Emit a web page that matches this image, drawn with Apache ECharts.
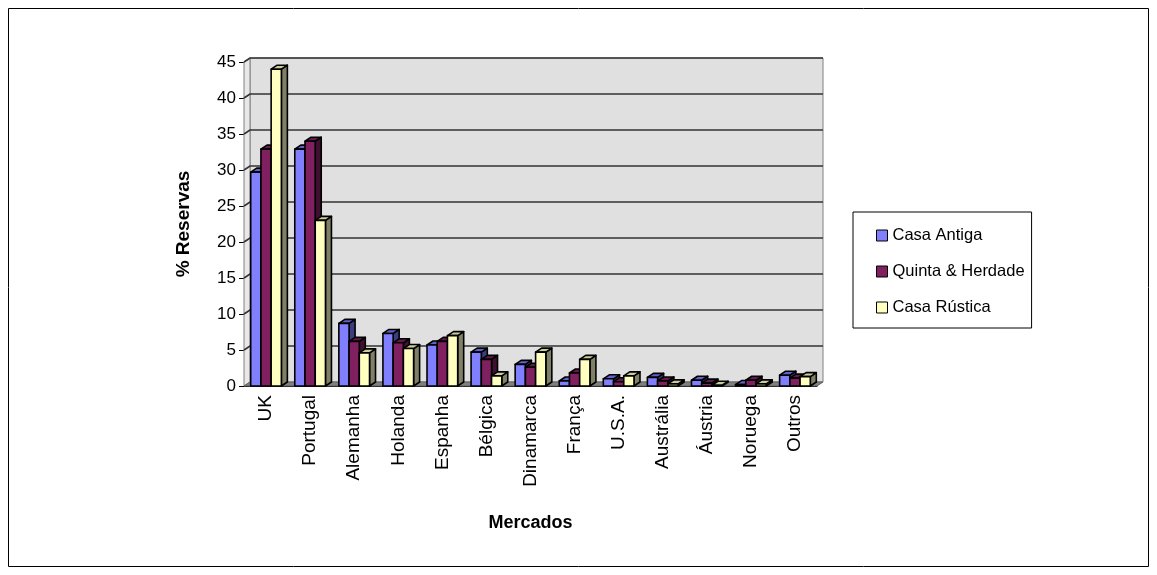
<!DOCTYPE html>
<html>
<head>
<meta charset="utf-8">
<script src="https://cdn.jsdelivr.net/npm/echarts@6/dist/echarts.min.js"></script>
<style>
html, body { margin: 0; padding: 0; background: #fff; }
#chart { width: 1157px; height: 575px; }
</style>
</head>
<body>
<div id="chart"></div>
<script>
// dados
var mercados = ['UK', 'Portugal', 'Alemanha', 'Holanda', 'Espanha', 'Bélgica', 'Dinamarca', 'França', 'U.S.A.', 'Austrália', 'Áustria', 'Noruega', 'Outros'];
var casaAntiga = [29.7, 32.9, 8.7, 7.3, 5.7, 4.7, 3.0, 0.7, 1.0, 1.2, 0.8, 0.2, 1.5];
var quintaHerdade = [32.9, 34.0, 6.2, 6.0, 6.2, 3.7, 2.6, 1.8, 0.6, 0.7, 0.4, 0.8, 1.1];
var casaRustica = [44.0, 23.0, 4.6, 5.2, 7.0, 1.4, 4.7, 3.7, 1.4, 0.3, 0.1, 0.3, 1.3];
var yTicks = [0, 5, 10, 15, 20, 25, 30, 35, 40, 45];

// profundidade 3D (px)
var dx = 6, dy = -4;

var myChart = echarts.init(document.getElementById('chart'));

// paredes, chão e linhas de grade ao estilo Excel 3D
function renderWalls(params, api) {
    var cs = params.coordSys;
    var x0 = cs.x, x1 = cs.x + cs.width, yt = cs.y, yb = cs.y + cs.height;
    var children = [];
    children.push({
        type: 'rect',
        shape: { x: x0 + dx, y: yt + dy, width: cs.width, height: cs.height },
        style: { fill: '#e0e0e0', stroke: '#808080', lineWidth: 1 }
    });
    children.push({
        type: 'polygon',
        shape: { points: [[x0, yt], [x0 + dx, yt + dy], [x0 + dx, yb + dy], [x0, yb]] },
        style: { fill: '#e8e8e8', stroke: '#808080', lineWidth: 1 }
    });
    children.push({
        type: 'polygon',
        shape: { points: [[x0, yb], [x0 + dx, yb + dy], [x1 + dx, yb + dy], [x1, yb]] },
        style: { fill: '#808080', stroke: '#606060', lineWidth: 1 }
    });
    yTicks.forEach(function (v) {
        if (v === 0) return;
        var y = api.coord([0, v])[1];
        children.push({
            type: 'polyline',
            shape: { points: [[x0, y], [x0 + dx, y + dy], [x1 + dx, y + dy]] },
            style: { stroke: '#333', lineWidth: 1.6, fill: null }
        });
    });
    return { type: 'group', children: children };
}

function makeBar(idx, front, top, side) {
    return function (params, api) {
        var j = api.value(0);
        var base = api.coord([j, 0]);
        var tp = api.coord([j, api.value(1)]);
        var band = api.size([1, 0])[0];
        var bw = band * 0.232;
        var x = base[0] - 1.5 * bw + idx * bw;
        var yt = tp[1], yb = base[1];
        var st = { stroke: '#000', lineWidth: 1.6, lineJoin: 'round' };
        return {
            type: 'group',
            children: [
                { type: 'polygon', shape: { points: [[x + bw, yt], [x + bw + dx, yt + dy], [x + bw + dx, yb + dy], [x + bw, yb]] },
                  style: Object.assign({ fill: side }, st) },
                { type: 'polygon', shape: { points: [[x, yt], [x + dx, yt + dy], [x + bw + dx, yt + dy], [x + bw, yt]] },
                  style: Object.assign({ fill: top }, st) },
                { type: 'rect', shape: { x: x, y: yt, width: bw, height: yb - yt },
                  style: Object.assign({ fill: front }, st) }
            ]
        };
    };
}

function toData(arr) {
    return arr.map(function (v, j) { return [j, v]; });
}

var option = {
    animation: false,
    textStyle: { fontFamily: 'Liberation Sans, Arial, sans-serif' },
    graphic: [{
        type: 'rect',
        shape: { x: 8.5, y: 8.5, width: 1140, height: 558 },
        style: { fill: null, stroke: '#000', lineWidth: 1 },
        silent: true
    }],
    grid: { left: 244, right: 340, top: 62, bottom: 189 },
    legend: {
        orient: 'vertical',
        left: 853,
        top: 212,
        data: ['Casa Antiga', 'Quinta & Herdade', 'Casa Rústica'],
        icon: 'rect',
        itemWidth: 11,
        itemHeight: 11,
        itemGap: 19,
        padding: [15, 7, 12, 23],
        backgroundColor: '#fff',
        borderColor: '#000',
        borderWidth: 1,
        borderRadius: 0,
        itemStyle: { borderColor: '#000', borderWidth: 1 },
        textStyle: { fontSize: 16.5, color: '#000', fontFamily: 'Liberation Sans' }
    },
    xAxis: {
        type: 'category',
        data: mercados,
        name: 'Mercados',
        nameLocation: 'middle',
        nameGap: 128,
        nameTextStyle: { fontSize: 18, fontWeight: 'bold', color: '#000' },
        axisLine: { lineStyle: { color: '#000', width: 1 } },
        axisTick: { length: 6, lineStyle: { color: '#000' } },
        axisLabel: { rotate: 90, fontSize: 19, color: '#000', margin: 9, interval: 0 },
        splitLine: { show: false }
    },
    yAxis: {
        type: 'value',
        min: yTicks[0],
        max: yTicks[yTicks.length - 1],
        interval: 5,
        name: '% Reservas',
        nameLocation: 'middle',
        nameGap: 51,
        nameTextStyle: { fontSize: 19, fontWeight: 'bold', color: '#000' },
        axisLine: { show: true, lineStyle: { color: '#000', width: 1 } },
        axisTick: { show: true, length: 5, lineStyle: { color: '#000' } },
        axisLabel: { fontSize: 17, color: '#000', margin: 8 },
        splitLine: { show: false }
    },
    series: [
        {
            name: 'walls',
            type: 'custom',
            silent: true,
            z: 1,
            clip: false,
            renderItem: renderWalls,
            data: [[0, 0]]
        },
        {
            name: 'Casa Antiga',
            type: 'custom',
            z: 3,
            clip: false,
            itemStyle: { color: '#8080ff' },
            renderItem: makeBar(0, '#8080ff', '#6262c8', '#3c3c80'),
            encode: { x: 0, y: 1 },
            data: toData(casaAntiga)
        },
        {
            name: 'Quinta & Herdade',
            type: 'custom',
            z: 3,
            clip: false,
            itemStyle: { color: '#802060' },
            renderItem: makeBar(1, '#802060', '#641a4c', '#401030'),
            encode: { x: 0, y: 1 },
            data: toData(quintaHerdade)
        },
        {
            name: 'Casa Rústica',
            type: 'custom',
            z: 3,
            clip: false,
            itemStyle: { color: '#ffffc0' },
            renderItem: makeBar(2, '#ffffc0', '#cccc9a', '#808066'),
            encode: { x: 0, y: 1 },
            data: toData(casaRustica)
        }
    ]
};

myChart.setOption(option);
</script>
</body>
</html>
